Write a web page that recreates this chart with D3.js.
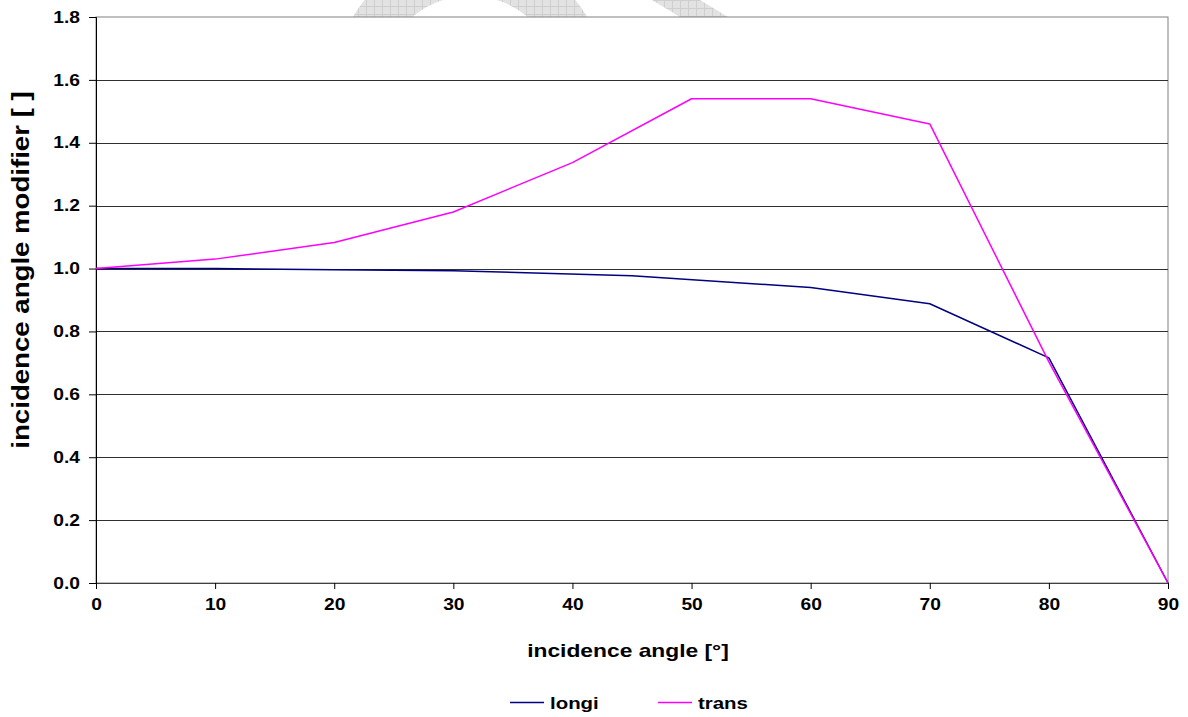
<!DOCTYPE html>
<html>
<head>
<meta charset="utf-8">
<script src="https://cdn.jsdelivr.net/npm/d3@7"></script>
<style>
  html, body { margin: 0; padding: 0; background: #fff; }
  svg { display: block; }
  text { font-family: "Liberation Sans", Arial, sans-serif; font-weight: bold; fill: #000; }
</style>
</head>
<body>
<svg id="chart" width="1188" height="717"></svg>
<script>
// Incidence angle modifier data
const transAngles = [0, 10, 20, 30, 40, 50, 60, 70, 80, 90];
const transValues = [1.0, 1.03, 1.083, 1.18, 1.337, 1.54, 1.54, 1.46, 0.703, 0.0];
const longiAngles = [0, 10, 20, 30, 45, 60, 70, 80, 90];
const longiValues = [1.0, 1.0, 0.996, 0.993, 0.977, 0.94, 0.888, 0.716, 0.0];

const xTicks = [0, 10, 20, 30, 40, 50, 60, 70, 80, 90];
const yTicks = [0.0, 0.2, 0.4, 0.6, 0.8, 1.0, 1.2, 1.4, 1.6, 1.8];

const seriesNames = ["longi", "trans"];
const seriesColors = ["#000080", "#ff00ff"];

const W = 1188, H = 717;
const margin = { left: 96, right: 20, top: 17, bottom: 134 };
const plotW = W - margin.left - margin.right;
const plotH = H - margin.top - margin.bottom;

const svg = d3.select("#chart");

// faint background emblem peeking out above the plot
const defs = svg.append("defs");
const pat = defs.append("pattern")
  .attr("id", "hatch").attr("patternUnits", "userSpaceOnUse")
  .attr("width", 8).attr("height", 8);
pat.append("rect").attr("width", 8).attr("height", 8).attr("fill", "#e2e2e2");
pat.append("path").attr("d", "M0,0.5H8M0.5,0V8").attr("stroke", "#cfcfcf").attr("stroke-width", 1);
defs.append("clipPath").attr("id", "topband")
  .append("rect").attr("x", 0).attr("y", 0).attr("width", W).attr("height", margin.top);
const emblem = svg.append("g").attr("clip-path", "url(#topband)");
const ring = d3.arc().innerRadius(90).outerRadius(136).startAngle(0).endAngle(2 * Math.PI);
emblem.append("path").attr("transform", "translate(470,86)").attr("d", ring()).attr("fill", "url(#hatch)");
emblem.append("path").attr("d", "M652,0L700,0L728,17L680,17Z").attr("fill", "url(#hatch)");

const g = svg.append("g").attr("transform", `translate(${margin.left},${margin.top})`);

const x = d3.scaleLinear().domain([0, 90]).range([0, plotW]);
const y = d3.scaleLinear().domain([0, 1.8]).range([plotH, 0]);

// white plot area with grey frame
g.append("rect").attr("x", 0).attr("y", 0).attr("width", plotW).attr("height", plotH)
  .attr("fill", "#fff").attr("stroke", "#808080").attr("stroke-width", 1);

// horizontal gridlines
g.append("g").selectAll("line").data(yTicks.filter(d => d > 0 && d < 1.8)).join("line")
  .attr("x1", 0).attr("x2", plotW)
  .attr("y1", d => Math.round(y(d)) + 0.5).attr("y2", d => Math.round(y(d)) + 0.5)
  .attr("stroke", "#303030").attr("stroke-width", 1);

// text widening so the bold face matches the wider lettering
function widen(sel, k) {
  sel.each(function () {
    const len = this.getComputedTextLength();
    d3.select(this).attr("textLength", len * k).attr("lengthAdjust", "spacingAndGlyphs");
  });
}
const K = 1.2;

// axes
const yAxis = g.append("g").call(d3.axisLeft(y).tickValues(yTicks).tickFormat(d3.format(".1f")).tickSize(7).tickPadding(9));
const xAxis = g.append("g").attr("transform", `translate(0,${plotH})`)
  .call(d3.axisBottom(x).tickValues(xTicks).tickFormat(d3.format("d")).tickSize(6).tickPadding(10));
[yAxis, xAxis].forEach(a => {
  a.select(".domain").attr("stroke", "#000");
  a.selectAll(".tick line").attr("stroke", "#000");
  a.selectAll(".tick text").style("font-size", "16px").style("font-family", "'Liberation Sans', Arial, sans-serif").style("font-weight", "bold");
  widen(a.selectAll(".tick text"), K);
});
xAxis.select(".domain").attr("stroke", "#404040");

// series lines
const line = d3.line().x(d => x(d[0])).y(d => y(d[1]));
const longiPts = longiAngles.map((a, i) => [a, longiValues[i]]);
const transPts = transAngles.map((a, i) => [a, transValues[i]]);
[longiPts, transPts].forEach((pts, i) => {
  g.append("path").datum(pts).attr("d", line)
    .attr("fill", "none").attr("stroke", seriesColors[i]).attr("stroke-width", 1.5)
    .attr("stroke-linejoin", "round");
});

// axis titles
const xt = svg.append("text").attr("x", 628).attr("y", 657).attr("text-anchor", "middle")
  .style("font-size", "19px").text("incidence angle [°]");
widen(xt, K);
const yt = svg.append("text").attr("transform", "translate(29,270) rotate(-90)").attr("text-anchor", "middle")
  .style("font-size", "23px").text("incidence angle modifier [ ]");
widen(yt, K);

// legend
const legendX = [510, 658];
seriesNames.forEach((name, i) => {
  const lg = svg.append("g").attr("transform", `translate(${legendX[i]},702)`);
  lg.append("line").attr("x1", 0).attr("x2", 34).attr("y1", 0.5).attr("y2", 0.5)
    .attr("stroke", seriesColors[i]).attr("stroke-width", 1.5);
  const t = lg.append("text").attr("x", 40).attr("y", 7).style("font-size", "17px").text(name);
  widen(t, K);
});
</script>
</body>
</html>
